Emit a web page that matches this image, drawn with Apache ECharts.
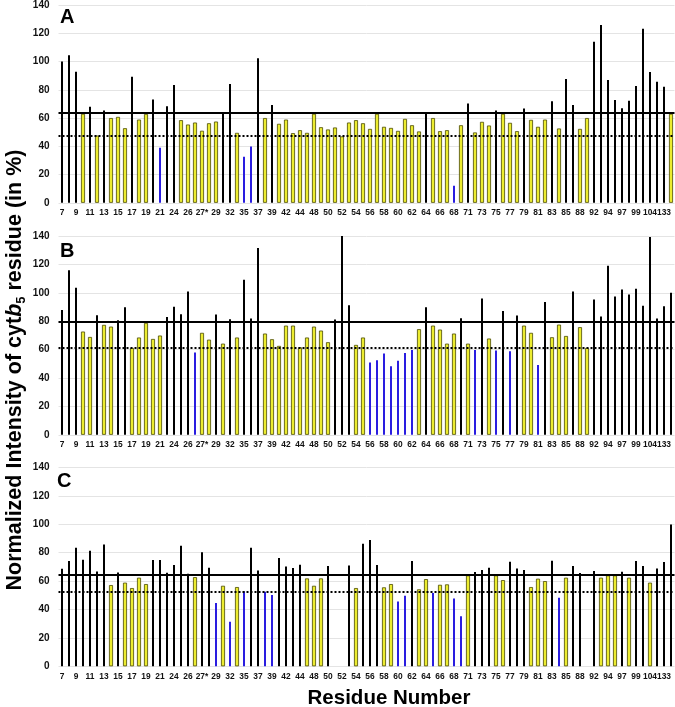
<!DOCTYPE html>
<html>
<head>
<meta charset="utf-8">
<script src="https://cdn.jsdelivr.net/npm/echarts@6/dist/echarts.min.js"></script>
<style>html,body{margin:0;padding:0;background:#fff}#c{width:675px;height:707px}</style>
</head>
<body>
<div id="c"></div>
<script>
// Residue categories (labels shown on every other category)
var categories = ['7','8','9','10','11','12','13','14','15','16','17','18','19','20','21','23','24','25','26','27','27*','28','29','31','32','34','35','36','37','38','39','41','42','43','44','46','48','49','50','51','52','53','54','55','56','57','58','59','60','61','62','63','64','65','66','67','68','70','71','72','73','74','75','76','77','78','79','80','81','82','83','84','85','86','88','90','92','93','94','96','97','98','99','100','104','105','133','134'];

// Panel A
var valuesA = [100,104.5,92.7,63,68,47.6,65.3,60,60.8,52.8,
  89.2,58.9,62.9,73.2,39,68.3,83.3,58.5,55.4,56.8,
  51,56.3,57.5,63.4,84,49.5,32.6,39.9,102.3,60,
  69.2,55.9,58.9,49.3,51.4,49.5,63,53.5,51.9,53.3,
  47,56.8,58.5,56.3,52.3,63,53.8,53,50.9,59.4,
  54.9,50.5,63,60,50.7,51.4,12,54.9,70.2,49.8,
  57.3,54.7,65.3,63,56.6,50.7,66.7,58.7,53.8,58.9,
  71.8,52.6,87.6,69.2,52.3,60,114,125.8,86.9,72.8,
  66.9,72.3,82.6,123.2,92.5,85.7,82.2,63];
var typesA = 'kkkykykyyy' + 'kyykbkkyyy' + 'yyykkybbky' + 'kyyyyyyyyy' + 'yyyyyyyyyy' +
  'yykyyybyky' + 'yykyyykyyy' + 'kykkyykkkk' + 'kkkkkkky';

// Panel B
var valuesB = [87.8,115.8,103.5,72.7,68.9,84.2,77.4,76.2,80.7,89.9,
  61.2,68.5,78.8,67.5,69.9,83,90.1,84.9,100.9,57.9,
  71.8,67,84.7,64.2,81.4,68.5,109.2,81.9,131.5,71.3,
  67.3,62.6,76.9,76.9,61.6,68.5,76.2,73.4,65.2,81.2,
  140,91.3,63.3,68.5,51,52.5,57.2,48.2,52.2,57.6,
  59.8,74.4,89.9,76.9,74.1,64.2,71.3,82.1,64.2,59.8,
  96,67.8,59.3,87.1,58.8,84,76.9,71.8,49.2,93.6,
  68.7,77.6,69.6,100.9,75.8,61.2,95.3,83.3,119,97.4,
  102.4,98.8,102.8,90.8,139.3,81.9,90.6,100];
var typesB = 'kkkyykyykk' + 'yyyyykkkkb' + 'yykykykkky' + 'yyyyyyyyyk' + 'kkyybbbbbb' +
  'bykyyyykyb' + 'kybkbkyybk' + 'yyykyykkkk' + 'kkkkkkkk';

// Panel C
var valuesC = [68.7,74.1,83.5,75,81.4,66.8,85.8,57.2,66.1,58.9,
  55.1,62.4,57.9,74.8,74.8,65.9,71.3,84.9,65.2,62.8,
  80.4,69.4,44.5,56.7,31.4,55.8,52.8,83.5,67.5,52.5,
  50.2,76.2,70.3,69.2,71.5,61.9,56.7,61.9,70.6,null,
  null,71,55.1,86.3,88.9,71.3,55.6,57.9,45.7,49.7,
  74.1,54.2,61.4,51.6,57.4,57.7,47.8,35.2,64,66.4,
  67.8,69.4,64,60.7,73.6,68.9,67.8,55.8,61.7,60,
  74.3,48.3,62.4,70.6,65.7,null,67.1,62.4,64,64,
  66.6,62.4,74.1,70.6,58.9,68.9,73.4,99.9];
var typesC = 'kkkkkkkyky' + 'yyykkkkkky' + 'kkbybybkkb' + 'bkkkkyyyk-' + '-kykkkyybb' +
  'kyybyybbyk' + 'kkyykkkyyy' + 'kbykk-kyyy' + 'kykkykkk';

// Reference lines (solid, dotted) per panel
var solidLines = [63.4, 79.7, 64.2];
var dottedLines = [47.2, 61.3, 52.5];
var panelLabels = ['A', 'B', 'C'];
var yTicks = [0, 20, 40, 60, 80, 100, 120, 140];

var panels = [[valuesA, typesA], [valuesB, typesB], [valuesC, typesC]];
var FONT = 'Liberation Sans, Arial, sans-serif';
var gridTops = [4, 236, 467.5];
var gridH = 198.8;

var grids = [], xAxes = [], yAxes = [], series = [], titles = [];
var colorDefs = {
  k: {width: 2, style: {color: '#000'}},
  y: {width: 4, style: {color: '#ecec30', borderColor: '#4a4a00', borderWidth: 0.8}},
  b: {width: 2, style: {color: '#2a1de0'}}
};
var titleLeft = [60, 60, 57];
var titleTop = [7, 241, 471];
panels.forEach(function (p, pi) {
  grids.push({left: 58.5, width: 616, top: gridTops[pi], height: gridH});
  titles.push({text: panelLabels[pi], left: titleLeft[pi], top: titleTop[pi], padding: 0,
    textStyle: {fontFamily: FONT, fontWeight: 'bold', fontSize: 20, color: '#000'}});
  yAxes.push({type: 'value', gridIndex: pi, min: yTicks[0], max: yTicks[yTicks.length - 1], interval: 20,
    axisLine: {show: false}, axisTick: {show: false},
    axisLabel: {fontFamily: FONT, fontWeight: 'bold', fontSize: 10, color: '#111', margin: 9},
    splitLine: {lineStyle: {color: '#e4e4e4', width: 1}}});
  ['k', 'y', 'b'].forEach(function (c, ci) {
    var xi = xAxes.length;
    xAxes.push({type: 'category', gridIndex: pi, data: categories, show: ci === 0,
      axisLine: {show: false}, axisTick: {show: false},
      axisLabel: {interval: 1, hideOverlap: false,
        fontFamily: FONT, fontWeight: 'bold', fontSize: 8.4, color: '#111', margin: 6}});
    var data = p[0].map(function (v, i) { return p[1][i] === c && v != null ? v : '-'; });
    var s = {type: 'bar', xAxisIndex: xi, yAxisIndex: pi, data: data, barWidth: colorDefs[c].width,
      itemStyle: colorDefs[c].style, silent: true, animation: false, z: 2};
    if (ci === 0) {
      s.markLine = {silent: true, symbol: 'none', label: {show: false}, animation: false,
        data: [
          {yAxis: solidLines[pi], lineStyle: {color: '#000', width: 2.2, type: 'solid'}},
          {yAxis: dottedLines[pi], lineStyle: {color: '#000', width: 2, type: [2, 2]}}
        ]};
    }
    series.push(s);
  });
});

var chart = echarts.init(document.getElementById('c'), null, {renderer: 'canvas'});
chart.setOption({
  animation: false,
  backgroundColor: '#fff',
  title: titles,
  grid: grids,
  xAxis: xAxes,
  yAxis: yAxes,
  series: series,
  graphic: [
    {type: 'text', x: 15, y: 370, rotation: Math.PI / 2, silent: true,
      style: {text: '{n|Normalized Intensity of cyt}{i|b}{s|5}{n| residue (in %)}',
        textAlign: 'center', textVerticalAlign: 'middle', fill: '#000',
        rich: {
          n: {fontFamily: FONT, fontWeight: 'bold', fontSize: 21.5, lineHeight: 26, fill: '#000'},
          i: {fontFamily: FONT, fontWeight: 'bold', fontStyle: 'italic', fontSize: 21.5, lineHeight: 26, fill: '#000'},
          s: {fontFamily: FONT, fontWeight: 'bold', fontSize: 13, lineHeight: 13, verticalAlign: 'bottom', fill: '#000'}
        }}},
    {type: 'text', x: 389, y: 698, silent: true,
      style: {text: 'Residue Number', textAlign: 'center', textVerticalAlign: 'middle',
        fontFamily: FONT, fontWeight: 'bold', fontSize: 20.5, fill: '#000'}}
  ]
});
</script>
</body>
</html>
